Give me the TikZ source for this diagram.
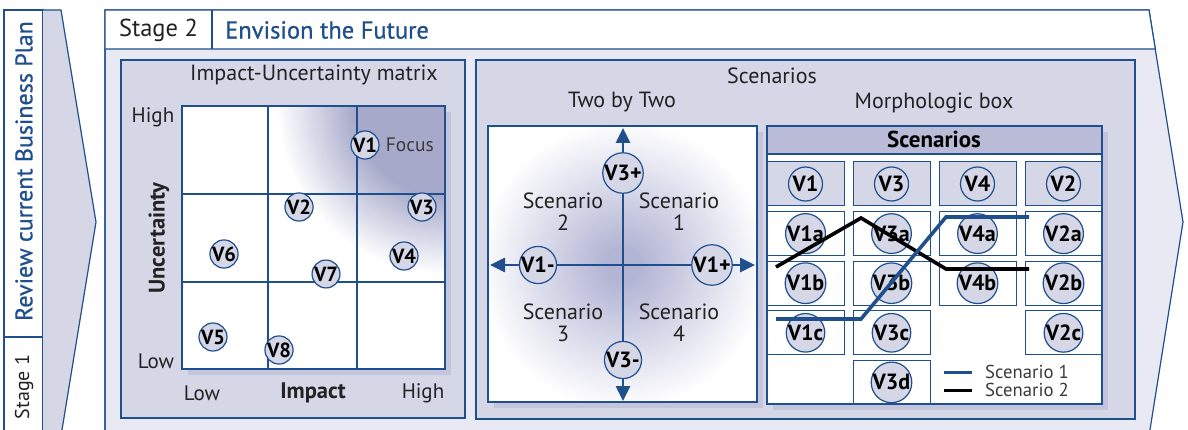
\documentclass[tikz,border=0pt]{standalone}
\usepackage{fontspec}
\setmainfont{PT Sans}
\newfontfamily\medium{PT Sans}[FakeBold=0.7]
\usetikzlibrary{arrows.meta,positioning}

\definecolor{stageblue}{HTML}{1F4F8D}
\definecolor{bodyfill}{HTML}{E9E9F3}
\definecolor{panelfill}{HTML}{D5D6E6}
\definecolor{headfill}{HTML}{BABCD7}
\definecolor{shadowfill}{HTML}{C3C5DC}
\definecolor{focusfill}{HTML}{A7A9CA}
\definecolor{crossfill}{HTML}{B3B5D4}
\definecolor{labeltext}{HTML}{222222}
\definecolor{softtext}{HTML}{3A3A3A}

% glow in the focus corner and round the axis cross (path edge = 25bp)
\pgfdeclareradialshading{focusglow}{\pgfpoint{0bp}{0bp}}{color(0bp)=(focusfill); color(7.5bp)=(focusfill); color(14bp)=(white); color(50bp)=(white)}
\pgfdeclareradialshading{crossglow}{\pgfpoint{0bp}{0bp}}{color(0bp)=(crossfill); color(2.8bp)=(crossfill); color(22.5bp)=(white); color(50bp)=(white)}

\begin{document}
\begin{tikzpicture}[x=1pt,y=-1pt,
    frame/.style={draw=stageblue,line width=1.2pt},
    lbl/.style={inner sep=0pt,text=labeltext,font=\fontsize{22}{22}\selectfont},
    var/.style={circle,draw=stageblue,line width=1.2pt,fill=panelfill,inner sep=0pt,
        minimum size=27pt,text=black,font=\fontsize{20.5}{20}\selectfont\bfseries},
    bigvar/.style={var,minimum size=34pt,font=\fontsize{22}{22}\selectfont\bfseries},
    cell/.style={rectangle,draw=stageblue,line width=1pt,fill=white,inner sep=0pt,
        minimum width=77pt,minimum height=44pt},
    axis/.style={stageblue,line width=2.6pt},
    axisend/.style={axis,-{Triangle[length=15pt,width=14pt]}},
    scen/.style={line width=3.6pt}]
\useasboundingbox (0,0) rectangle (1188,430);

% stage 1 column and its chevron
\draw[frame,fill=white] (4,436) -- (4,10) -- (43,10) -- (43,436);
\draw[frame] (4,337) -- (43,337);
\draw[frame,fill=panelfill] (43,10) -- (61,10) -- (96,222) -- (61,436) -- (43,436);
\node[lbl,rotate=90,text=stageblue,font=\fontsize{24}{24}\selectfont\medium] (review) at (24,171) {Review current Business Plan};
\node[lbl,rotate=90,font=\fontsize{20}{20}\selectfont] (stage1) at (24,387) {Stage 1};

% stage 2 body with title bar
\draw[frame,fill=bodyfill] (105,436) -- (105,10) -- (1149,10) -- (1183,222) -- (1149,436);
\fill[white] (105,10) -- (1149,10) -- (1155.3,49) -- (105,49) -- cycle;
\draw[frame] (105,436) -- (105,10) -- (1149,10) -- (1155.3,49) -- (105,49);
\draw[frame] (212,10) -- (212,49);
\node[lbl,font=\fontsize{24.5}{24}\selectfont] (stage2) at (158.5,30) {Stage 2};
\node[lbl,anchor=west,text=stageblue,font=\fontsize{24.5}{24}\selectfont\medium] (envision) at (225,30) {Envision the Future};

% impact-uncertainty matrix
\draw[frame,fill=panelfill] (121,60) rectangle (465,418);
\node[lbl] (mtitle) at (314,75) {Impact-Uncertainty matrix};
\fill[shadowfill] (188,112) rectangle (451,375);
\fill[white] (182,106) rectangle (445,369);
\begin{scope}
  \clip (182,106) rectangle (445,369);
  \fill[shading=focusglow] (145,-194) rectangle (745,406);
\end{scope}
\draw[frame] (182,106) rectangle (445,369);
\foreach \gx in {268,357} \draw[frame] (\gx,106) -- (\gx,369);
\foreach \gy in {194,282} \draw[frame] (182,\gy) -- (445,\gy);
\node[lbl,font=\fontsize{21}{21}\selectfont] (high) at (153,117) {High};
\node[lbl,font=\fontsize{21}{21}\selectfont] (low) at (156,361) {Low};
\node[lbl,rotate=90,font=\fontsize{22.5}{22}\selectfont\bfseries] (uncert) at (159,238) {Uncertainty};
\node[lbl,font=\fontsize{21}{21}\selectfont] (ilow) at (202,393) {Low};
\node[lbl,font=\fontsize{22.5}{22}\selectfont\bfseries] (impact) at (313,393) {Impact};
\node[lbl,font=\fontsize{21}{21}\selectfont] (ihigh) at (423,393) {High};
\node[var] (m1) at (365,145) {V1};
\node[lbl,right=6pt of m1,text=softtext,font=\fontsize{19.5}{19}\selectfont] (focus) {Focus};
\node[var] (m2) at (299,207) {V2};
\node[var] (m3) at (422,207) {V3};
\node[var] (m4) at (404,256) {V4};
\node[var] (m5) at (213,337) {V5};
\node[var] (m6) at (224,254) {V6};
\node[var] (m7) at (326,274) {V7};
\node[var] (m8) at (279,350) {V8};

% scenarios panel
\draw[frame,fill=panelfill] (476,60) rectangle (1135,419);
\node[lbl] (stitle) at (772,76) {Scenarios};
\node[lbl] (twotitle) at (622,102) {Two by Two};
\node[lbl] (morphtitle) at (934,103) {Morphologic box};

% two by two
\fill[shadowfill] (494,132) rectangle (763,408);
\fill[white] (488,126) rectangle (757,402);
\begin{scope}
  \clip (488,126) rectangle (757,402);
  \fill[shading=crossglow] (463,105) rectangle (783,425);
\end{scope}
\draw[frame] (488,126) rectangle (757,402);
\coordinate (up) at (623,128);
\coordinate (down) at (623,401);
\coordinate (left) at (490,265);
\coordinate (right) at (755,265);
\node[bigvar,minimum size=33pt] (v3p) at (623,173) {V3+};
\node[bigvar,minimum size=33pt] (v3m) at (623,360) {V3-};
\node[bigvar,minimum size=33pt] (v1m) at (538,265) {V1-};
\node[bigvar,minimum size=33pt] (v1p) at (712,265) {V1+};
\draw[axis] (v3p.south) -- (v3m.north);
\draw[axis] (v1m.east) -- (v1p.west);
\draw[axisend] (v3p.north) -- (up);
\draw[axisend] (v3m.south) -- (down);
\draw[axisend] (v1m.west) -- (left);
\draw[axisend] (v1p.east) -- (right);
\node[lbl,align=center] (sc2) at (563,212) {Scenario\\2};
\node[lbl,align=center] (sc1) at (679,212) {Scenario\\1};
\node[lbl,align=center] (sc3) at (563,323) {Scenario\\3};
\node[lbl,align=center] (sc4) at (679,323) {Scenario\\4};

% morphologic box
\fill[shadowfill] (773,132) rectangle (1108,410);
\draw[frame,fill=white] (767,126) rectangle (1102,404);
\draw[frame,fill=headfill] (767,126) rectangle (1102,154);
\node[lbl,font=\fontsize{23}{23}\selectfont\bfseries,text=black] (mhead) at (934,139) {Scenarios};
\foreach \cx/\v/\maxrow in {767/1/3,853/3/4,939/4/2,1025/2/3}{
  \node[cell,fill=panelfill] (c\v) at (\cx+38.5,184) {};
  \node[bigvar] (b\v) at (c\v) {V\v};
  \foreach \r/\s in {1/a,2/b,3/c,4/d}{
    \ifnum\r>\maxrow\relax\else
      \node[cell] (c\v\s) at (\cx+38.5,184+49.6*\r) {};
      \node[bigvar] (b\v\s) at (c\v\s) {V\v\s};
    \fi
  }
}
\draw[frame] (767,126) rectangle (1102,404);
% the two scenario paths
\draw[scen,black] (776,267) -- (861,218) -- (946,269) -- (1029,269);
\draw[scen,stageblue] (776,319) -- (861,319) -- (946,217) -- (1029,217);
\draw[scen,stageblue,line width=3pt] (944,372) -- (972,372);
\draw[scen,black,line width=3pt] (944,390) -- (972,390);
\node[lbl,anchor=west,text=softtext,font=\fontsize{18.7}{18}\selectfont] (leg1) at (985,372) {Scenario 1};
\node[lbl,anchor=west,text=softtext,font=\fontsize{18.7}{18}\selectfont] (leg2) at (985,390) {Scenario 2};
\end{tikzpicture}
\end{document}
